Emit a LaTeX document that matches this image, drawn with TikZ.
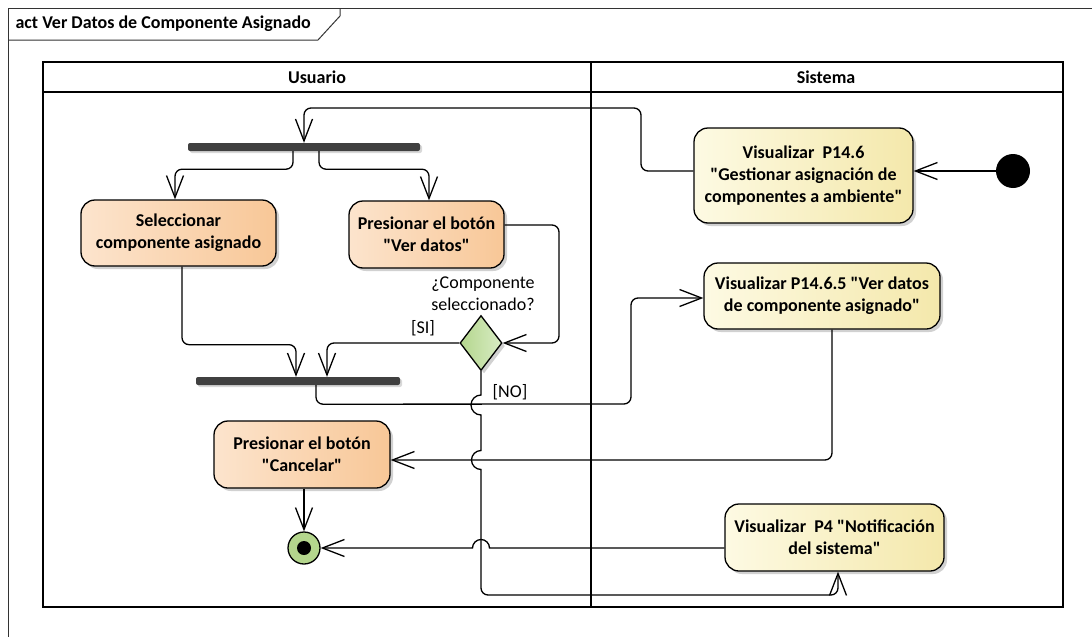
\documentclass[tikz,border=0pt]{standalone}
\usepackage{fontspec}
\setmainfont{Carlito}[Ligatures=TeXOff]
\usetikzlibrary{arrows.meta,shadows,shapes.geometric}
\definecolor{actorange}{HTML}{F8C797}
\definecolor{actorangelt}{HTML}{FCE4CD}
\definecolor{actyellow}{HTML}{F4E8AB}
\definecolor{actyellowlt}{HTML}{FDFAE3}
\definecolor{actgreen}{HTML}{B4D68D}
\definecolor{actgreenlt}{HTML}{D8ECC4}
\definecolor{bargray}{HTML}{404040}
\tikzset{>={Straight Barb[length=22pt,width=17pt]}}
\tikzset{
  actbox/.style={draw, line width=1.3pt, rounded corners=14pt, align=center,
    font=\bfseries\fontsize{18}{22}\selectfont,
    drop shadow={shadow xshift=3pt,shadow yshift=-3pt,fill=black!30,opacity=.6}},
  usr/.style={actbox, left color=actorangelt, right color=actorange},
  sis/.style={actbox, left color=actyellowlt, right color=actyellow},
  bar/.style={fill=bargray, rounded corners=2pt, inner sep=0pt, minimum height=8pt,
    drop shadow={shadow xshift=2pt,shadow yshift=-2pt,fill=black!30,opacity=.5}},
  decision/.style={diamond, draw, line width=1.3pt, inner sep=0pt, minimum width=42pt,
    minimum height=55pt, left color=actgreen, right color=actgreenlt,
    drop shadow={shadow xshift=3pt,shadow yshift=-3pt,fill=black!30,opacity=.6}},
  flow/.style={->, line width=1.3pt, rounded corners=7pt},
  guard/.style={font=\fontsize{18}{22}\selectfont, align=center},
  heading/.style={font=\bfseries\fontsize{18}{22}\selectfont},
  lane/.style={line width=1.8pt}
}

\begin{document}
\begin{tikzpicture}[x=1pt,y=-1pt]
	\useasboundingbox (0,0) rectangle (1092,637);

	% frame and title tab
	\draw[line width=1pt, black!80] (8,637) -- (8,8) -- (1092,8);
	\draw[line width=1pt, black!80] (8,40) -- (318,40) -- (340,16) -- (340,8);
	\node[heading, anchor=west] (titulo) at (12,24) {act Ver Datos de Componente Asignado};

	% swimlanes
	\draw[lane] (43,62) rectangle (1063,607);
	\draw[lane] (43,92) -- (1063,92);
	\draw[lane] (591,62) -- (591,607);
	\node[heading] (usuario) at (317,77) {Usuario};
	\node[heading] (sistema) at (826,77) {Sistema};

	% nodes
	\node[circle, fill=black, minimum size=34pt, inner sep=0pt] (ini) at (1013,171) {};
	\node[sis, minimum width=219pt, minimum height=95pt] (p146) at (803.5,175.5) {Visualizar\ \ P14.6\\"Gestionar asignación de\\componentes a ambiente"};
	\node[bar, minimum width=232pt] (fork) at (304,147) {};
	\node[usr, minimum width=195pt, minimum height=66pt] (sel) at (178.5,233) {Seleccionar\\componente asignado};
	\node[usr, minimum width=155pt, minimum height=67pt] (vd) at (426.5,234.5) {Presionar el botón\\"Ver datos"};
	\node[decision] (dec) at (481,343) {};
	\node[guard] (pregunta) at (483,294) {¿Componente\\seleccionado?};
	\node[bar, minimum width=204pt] (join) at (298,381) {};
	\node[sis, minimum width=236pt, minimum height=66pt] (p1465) at (822,296) {Visualizar P14.6.5 "Ver datos\\de componente asignado"};
	\node[usr, minimum width=176pt, minimum height=67pt] (cancel) at (302,454.5) {Presionar el botón\\"Cancelar"};
	\node[sis, minimum width=219pt, minimum height=67pt] (p4) at (834.5,537.5) {Visualizar\ \ P4 "Notificación\\del sistema"};
	\node[circle, draw, line width=1.3pt, fill=actgreen, minimum size=32pt, inner sep=0pt] (fin) at (304,548) {};
	\node[circle, fill=black, minimum size=14pt, inner sep=0pt] (findot) at (fin) {};

	% control flows
	\draw[flow] (ini) -- (ini -| p146.east);
	\draw[flow] (p146.west |- ini) -- (641,171) -- (641,108) -- (fork.north |- 0,108) -- (fork.north);
	\draw[flow] ([xshift=-11pt]fork.south) -- ++(0,18) -| ([xshift=-3.5pt]sel.north);
	\draw[flow] ([xshift=15pt]fork.south) -- ++(0,18) -| ([xshift=2.5pt]vd.north);
	\draw[flow] ([xshift=3.5pt]sel.south) -- ++(0,78) -| ([xshift=-2pt]join.north);
	\draw[flow] ([yshift=9.5pt]vd.east) -| (559,343) -- (dec.east);
	\draw[flow] (dec.west) -| ([xshift=29pt]join.north);
	\node[guard] (si) at (423,328) {[SI]};
	\draw[flow, sharp corners] (dec.south) -- (481,395) arc[start angle=270, end angle=90, radius=10]
		-- (481,450.5) arc[start angle=270, end angle=90, radius=9.5]
		[rounded corners=7pt] -- (481,595) -- (838,595) -- ([xshift=3.5pt]p4.south);
	\node[guard] (no) at (510,392) {[NO]};
	\draw[flow] ([xshift=18pt]join.south) -- ++(0,19) -- (631,404) |- ([yshift=-2pt]p1465.west);
	\draw[flow] ([xshift=10pt]p1465.south) |- ([yshift=-5.5pt]cancel.east);
	\draw[flow] (cancel.south -| fin) -- (fin);
	\draw[flow, sharp corners] (p4.west |- fin) -- (489.5,548) arc[start angle=0, end angle=-180, radius=8.5] -- (fin);
\end{tikzpicture}
\end{document}
